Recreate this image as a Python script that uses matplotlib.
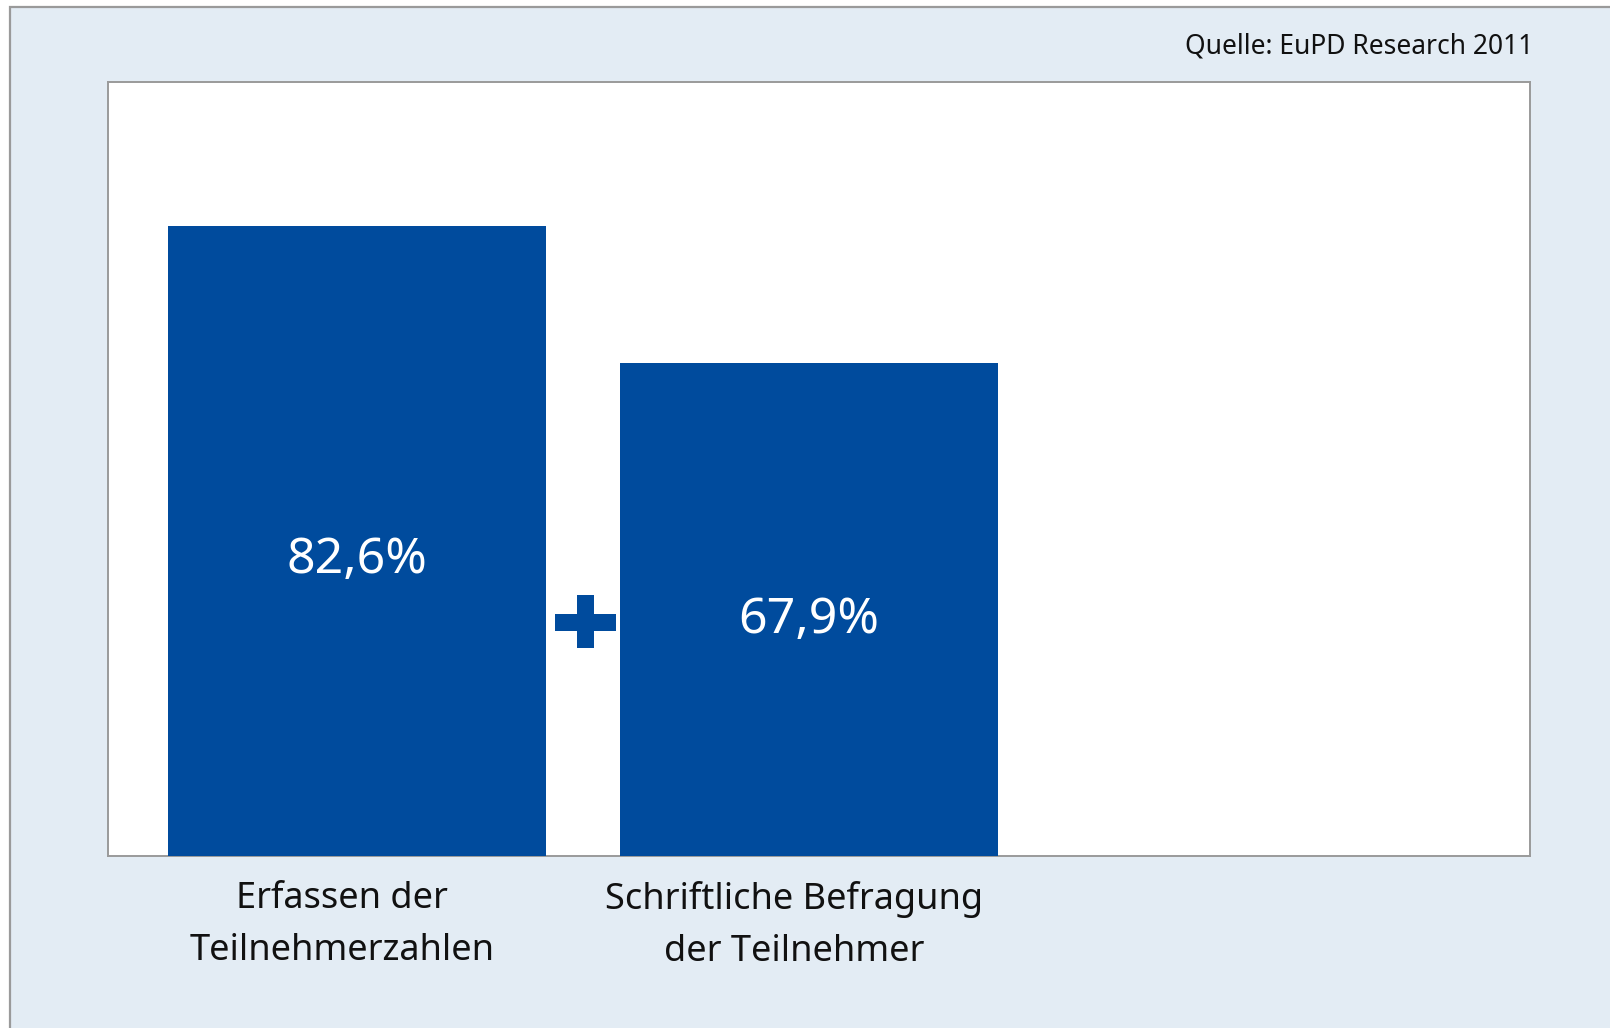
import matplotlib
matplotlib.use("Agg")
import matplotlib.pyplot as plt
from matplotlib.patches import Rectangle
from matplotlib.transforms import ScaledTranslation

# --- Daten ---
kategorien = ["Erfassen der\nTeilnehmerzahlen", "Schriftliche Befragung\nder Teilnehmer"]
werte = [82.6, 67.9]
wert_labels = ["82,6%", "67,9%"]
quelle = "Quelle: EuPD Research 2011"

BLAU = "#004B9D"
HG = "#E3ECF4"
GRAU = "#9A9A9A"
W, H = 1610, 1028

plt.rcParams["font.family"] = ["Noto Sans", "DejaVu Sans"]

fig = plt.figure(figsize=(W / 100, H / 100), dpi=100, facecolor="white")

# hellblauer Hintergrund mit grauem Rahmen (läuft rechts/unten aus dem Bild)
fig.patches.append(Rectangle((10 / W, -0.05), 1.1, (H - 7) / H + 0.05,
                             transform=fig.transFigure, facecolor=HG,
                             edgecolor=GRAU, lw=1.6, zorder=-1))

ax = fig.add_axes([108 / W, 172 / H, 1422 / W, 774 / H])
ax.set_zorder(1)
ax.set_facecolor("white")
x = list(range(len(werte)))
ax.bar(x, werte, width=0.836, color=BLAU, zorder=3)
ax.set_xlim(-0.551, 2.595)
ax.set_ylim(14.8, 98.1)

for sp in ax.spines.values():
    sp.set_color(GRAU)
    sp.set_linewidth(1.4)
ax.set_yticks([])
ax.set_xticks(x)
ax.set_xticklabels(kategorien, fontsize=26, linespacing=1.6, color="#111")
ax.tick_params(axis="x", length=0, pad=18)
for lbl in ax.get_xticklabels():
    lbl.set_transform(lbl.get_transform() + ScaledTranslation(-0.15, 0, fig.dpi_scale_trans))

# Werte in den Balken
for xi, v, t, dy in zip(x, werte, wert_labels, [2.0, 1.1]):
    ax.text(xi, (14.8 + v) / 2 - dy, t, ha="center", va="center",
            color="white", fontsize=36)

# Pluszeichen zwischen den Balken
fig.patches.append(Rectangle((555 / W, (H - 631) / H), 61 / W, 17 / H,
                             transform=fig.transFigure, facecolor=BLAU, lw=0, zorder=5))
fig.patches.append(Rectangle((577 / W, (H - 648) / H), 17 / W, 53 / H,
                             transform=fig.transFigure, facecolor=BLAU, lw=0, zorder=5))

fig.text(1533 / W, (H - 46) / H, quelle, ha="right", va="center",
         fontsize=19, color="#111")

fig.savefig("out.png", dpi=100, facecolor=fig.get_facecolor())
